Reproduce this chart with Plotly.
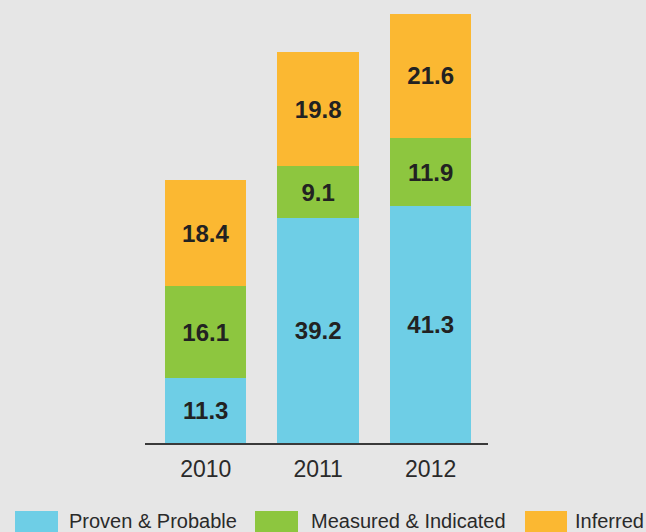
import plotly.graph_objects as go

# Resource categories (million ounces) by year
years = ["2010", "2011", "2012"]
proven_probable = [11.3, 39.2, 41.3]
measured_indicated = [16.1, 9.1, 11.9]
inferred = [18.4, 19.8, 21.6]

series_names = ["Proven & Probable", "Measured & Indicated", "Inferred"]
series_values = [proven_probable, measured_indicated, inferred]
series_colors = ["#6ecee6", "#8dc63f", "#fbb832"]

W, H = 646, 532
M_L, M_R, M_T, M_B = 145, 158, 14, 89
PLOT_W = W - M_L - M_R
PLOT_H = H - M_T - M_B

def px_x(p):
    return (p - M_L) / PLOT_W

def px_y(p):
    return (H - M_B - p) / PLOT_H

fig = go.Figure()
for name, vals, col in zip(series_names, series_values, series_colors):
    fig.add_trace(go.Bar(
        x=years, y=vals, name=name,
        marker=dict(color=col, line=dict(width=0)),
        text=[f"{v:.1f}" for v in vals],
        textposition="inside", insidetextanchor="middle",
        textangle=0,
        textfont=dict(family="Liberation Sans, Arial, sans-serif", size=24,
                      color="#222222", weight="bold"),
        showlegend=False,
    ))

totals = [a + b + c for a, b, c in zip(*series_values)]

# Hand-built legend with wide swatches under the axis
legend_swatch_px = [(15, 58), (255, 298), (525, 567)]
legend_text_px = [67, 309, 573]
shapes = []
annotations = []
for (x0, x1), tx, name, col in zip(legend_swatch_px, legend_text_px, series_names, series_colors):
    shapes.append(dict(type="rect", xref="paper", yref="paper",
                       x0=px_x(x0), x1=px_x(x1), y0=px_y(534), y1=px_y(511),
                       fillcolor=col, line=dict(width=0), layer="below"))
    annotations.append(dict(xref="paper", yref="paper", x=px_x(tx), y=px_y(521),
                            xanchor="left", yanchor="middle", showarrow=False,
                            text=name,
                            font=dict(family="Liberation Sans, Arial, sans-serif",
                                      size=20, color="#2a2a2a")))

fig.update_layout(
    width=W, height=H,
    margin=dict(l=M_L, r=M_R, t=M_T, b=M_B, pad=0),
    barmode="stack",
    bargap=0.275,
    paper_bgcolor="#e6e6e6",
    plot_bgcolor="#e6e6e6",
    shapes=shapes,
    annotations=annotations,
    xaxis=dict(
        range=[-0.54, 2.51],
        showline=True, linecolor="#3a3a3a", linewidth=2,
        showgrid=False, zeroline=False,
        ticks="outside", ticklen=4, tickcolor="rgba(0,0,0,0)",
        tickfont=dict(family="Liberation Sans, Arial, sans-serif", size=23, color="#2a2a2a"),
    ),
    yaxis=dict(
        range=[0, max(totals)],
        visible=False, showgrid=False, zeroline=False,
    ),
)

fig.write_html("out.html")
